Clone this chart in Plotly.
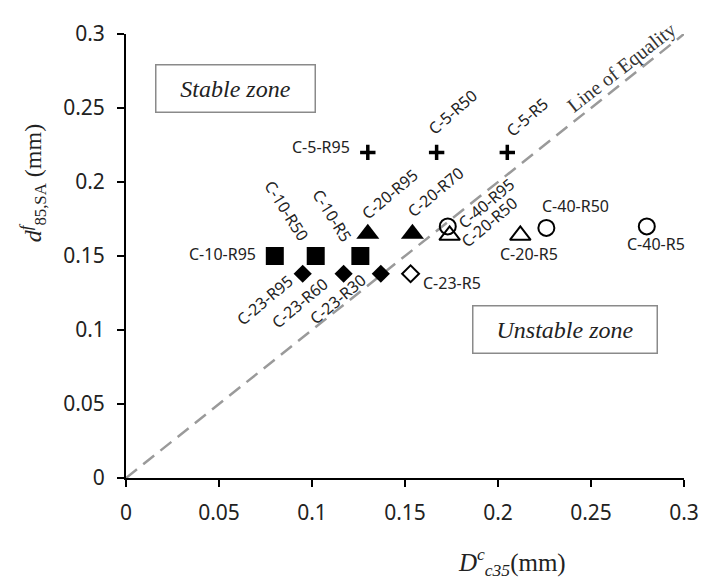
import plotly.graph_objects as go

# ---- data ----
c5_labels = ["C-5-R95", "C-5-R50", "C-5-R5"]
c5_x = [0.130, 0.167, 0.205]
c5_y = [0.220, 0.220, 0.220]

c10_labels = ["C-10-R95", "C-10-R50", "C-10-R5"]
c10_x = [0.080, 0.102, 0.126]
c10_y = [0.150, 0.150, 0.150]

c20f_labels = ["C-20-R95", "C-20-R70"]
c20f_x = [0.130, 0.154]
c20f_y = [0.165, 0.165]

c20o_labels = ["C-20-R50", "C-20-R5"]
c20o_x = [0.174, 0.212]
c20o_y = [0.164, 0.164]

c23f_labels = ["C-23-R95", "C-23-R60", "C-23-R30"]
c23f_x = [0.095, 0.117, 0.137]
c23f_y = [0.138, 0.138, 0.138]

c23o_labels = ["C-23-R5"]
c23o_x = [0.153]
c23o_y = [0.138]

c40_labels = ["C-40-R95", "C-40-R50", "C-40-R5"]
c40_x = [0.173, 0.226, 0.280]
c40_y = [0.170, 0.169, 0.170]

equality_x = [0.0, 0.3]
equality_y = [0.0, 0.3]

x_ticks = [0, 0.05, 0.1, 0.15, 0.2, 0.25, 0.3]
y_ticks = [0, 0.05, 0.1, 0.15, 0.2, 0.25, 0.3]

# ---- label placement (pixel offsets from the point, rotation) ----
label_place = {
    "C-5-R95": (-47, 5, 0),
    "C-5-R50": (16, 40, -41),
    "C-5-R5": (20, 35, -41),
    "C-10-R95": (-52, 2, 0),
    "C-10-R50": (-29, 45, 58),
    "C-10-R5": (-28, 40, 58),
    "C-20-R95": (22, 40, -40),
    "C-20-R70": (23, 42, -40),
    "C-20-R50": (40, 13, -40),
    "C-20-R5": (9, -19, 0),
    "C-23-R95": (-38, -26, -40),
    "C-23-R60": (-44, -29, -40),
    "C-23-R30": (-43, -25, -40),
    "C-23-R5": (41, -9, 0),
    "C-40-R95": (39, 23, -40),
    "C-40-R50": (29, 22, 0),
    "C-40-R5": (9, -18, 0),
}

fig = go.Figure()

fig.add_trace(go.Scatter(
    x=equality_x, y=equality_y, mode="lines",
    line=dict(color="#9a9a9a", width=2.5, dash="14px,8px"),
    hoverinfo="skip", showlegend=False))

series = [
    (c5_labels, c5_x, c5_y, dict(symbol="cross-thin", size=11, color="black",
                                 line=dict(color="black", width=3.5))),
    (c10_labels, c10_x, c10_y, dict(symbol="square", size=18, color="black",
                                    line=dict(width=0))),
    (c20f_labels, c20f_x, c20f_y, dict(symbol="triangle-up", size=20, color="black",
                                       line=dict(width=0))),
    (c20o_labels, c20o_x, c20o_y, dict(symbol="triangle-up-open", size=18, color="black",
                                       line=dict(color="black", width=2))),
    (c23f_labels, c23f_x, c23f_y, dict(symbol="diamond", size=14, color="black",
                                       line=dict(width=0))),
    (c23o_labels, c23o_x, c23o_y, dict(symbol="diamond-open", size=13, color="black",
                                       line=dict(color="black", width=2))),
    (c40_labels, c40_x, c40_y, dict(symbol="circle-open", size=16, color="black",
                                    line=dict(color="black", width=2))),
]

annotations = []
for labels, xs, ys, marker in series:
    fig.add_trace(go.Scatter(x=xs, y=ys, mode="markers", marker=marker,
                             text=labels, hoverinfo="text", showlegend=False))
    for lab, xv, yv in zip(labels, xs, ys):
        dx, dy, ang = label_place[lab]
        annotations.append(dict(
            x=xv, y=yv, xref="x", yref="y", text=lab, showarrow=False,
            xanchor="center", yanchor="middle",
            xshift=dx, yshift=dy, textangle=ang,
            font=dict(family="Noto Sans", size=16, color="#222222")))

serif = "Liberation Serif"
annotations += [
    dict(x=0.0587, y=0.263, xref="x", yref="y", text="Stable zone", showarrow=False,
         xanchor="center", yanchor="middle",
         font=dict(family=serif, size=24, color="#222222", style="italic"),
         width=158, height=46, bordercolor="#8a8a8a", borderwidth=1.5, borderpad=0,
         bgcolor="white"),
    dict(x=0.2362, y=0.1002, xref="x", yref="y", text="Unstable zone", showarrow=False,
         xanchor="center", yanchor="middle",
         font=dict(family=serif, size=24, color="#222222", style="italic"),
         width=183, height=46, bordercolor="#8a8a8a", borderwidth=1.5, borderpad=0,
         bgcolor="white"),
    dict(x=0.2666, y=0.2775, xref="x", yref="y", text="Line of Equality", showarrow=False,
         xanchor="center", yanchor="middle",
         textangle=-38, font=dict(family=serif, size=20, color="#333333")),
    dict(x=(32 - 126) / 566, y=(478 - 173) / 459, xref="paper", yref="paper",
         xanchor="center", yanchor="middle",
         text="<i>d</i><sup><i>f</i></sup><sub>85,SA</sub> (mm)", showarrow=False,
         textangle=-90, font=dict(family=serif, size=24, color="#222222")),
    dict(x=(517.5 - 126) / 566, y=(478 - 565) / 459, xref="paper", yref="paper",
         xanchor="center", yanchor="middle",
         text="<i>D</i><sup><i>c</i></sup><sub><i>c35</i></sub>(mm)", showarrow=False,
         font=dict(family=serif, size=25, color="#222222")),
]

axis_common = dict(
    showline=True, linecolor="black", linewidth=2,
    ticks="outside", ticklen=7, tickwidth=2, tickcolor="black",
    showgrid=False, zeroline=False, ticklabeloverflow="allow",
    tickfont=dict(family="Noto Sans", size=21, color="#222222"),
)

fig.update_xaxes(range=[0, 0.3], tickvals=x_ticks, ticktext=[f"{v:g}" for v in x_ticks],
                 ticklabelstandoff=8, **axis_common)
fig.update_yaxes(range=[0, 0.3], tickvals=y_ticks, ticktext=[f"{v:g}" for v in y_ticks],
                 ticklabelstandoff=8, **axis_common)

# the page body has an 8px margin, so the figure is sized/placed to compensate
fig.update_layout(
    width=702, height=576,
    margin=dict(l=118, r=18, t=11, b=106),
    paper_bgcolor="white", plot_bgcolor="white",
    annotations=annotations,
    showlegend=False,
)

fig.write_html("out.html")
